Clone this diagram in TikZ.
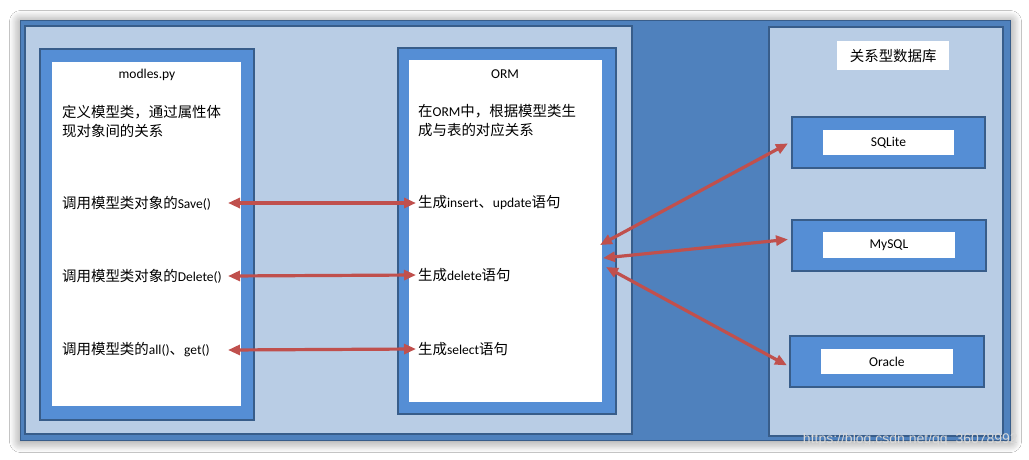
\documentclass[tikz,border=0pt]{standalone}
\usepackage{fontspec}
\setmainfont{Carlito}
\newfontfamily\cjk[Scale=1.07]{Noto Sans CJK SC}
\newfontfamily\urlfont{Liberation Sans}
\usetikzlibrary{arrows.meta}
\usetikzlibrary{shadows.blur}
\definecolor{outerblue}{RGB}{79,129,189}
\definecolor{panelfill}{RGB}{185,205,229}
\definecolor{boxblue}{RGB}{85,142,213}
\definecolor{paneledge}{RGB}{56,93,138}
\definecolor{linkred}{RGB}{192,80,77}
\tikzset{
  panel/.style={draw=paneledge, line width=2pt, fill=panelfill, anchor=north west, inner sep=0pt},
  bluebox/.style={draw=paneledge, line width=1.8pt, fill=boxblue, anchor=north west, inner sep=0pt},
  whitebox/.style={fill=white, anchor=north west, inner sep=0pt},
  txt/.style={anchor=west, inner sep=0pt, font=\fontsize{13.5}{19}\selectfont, align=left},
  ctxt/.style={inner sep=0pt, font=\fontsize{13.5}{17}\selectfont},
  link/.style={draw=linkred, line width=3.2pt, {Triangle[length=12pt,width=10pt]}-{Triangle[length=12pt,width=10pt]}},
}
\begin{document}
\begin{tikzpicture}[x=1pt, y=-1pt]
  \useasboundingbox[fill=white] (0,0) rectangle (1029,459);
  % frame and panels
  \node[draw=paneledge, line width=1pt, fill=outerblue, anchor=north west, inner sep=0pt,
        minimum width=990pt, minimum height=420pt,
        blur shadow={shadow xshift=0pt, shadow yshift=-1pt, shadow blur radius=11pt, shadow blur steps=12, shadow opacity=50}] (frame) at (20,20) {};
  \node[panel, minimum width=607pt, minimum height=408pt] (appside) at (24,25) {};
  \node[panel, minimum width=234pt, minimum height=409pt] (dbside) at (768,26) {};
  % modles.py
  \node[bluebox, minimum width=214pt, minimum height=371pt] (modles) at (39,48) {};
  \node[whitebox, minimum width=189pt, minimum height=344pt] (modlesIn) at (52,62) {};
  \node[ctxt] (modlesTitle) at (147,75) {modles.py};
  \node[txt] (modlesDesc) at (62,121) {{\cjk 定义模型类，通过属性体}\\{\cjk 现对象间的关系}};
  \node[txt] (save) at (62,203) {{\cjk 调用模型类对象的}Save()};
  \node[txt] (delete) at (62,276) {{\cjk 调用模型类对象的}Delete()};
  \node[txt] (allget) at (62,350) {{\cjk 调用模型类的}all(){\cjk 、}get()};
  % ORM
  \node[bluebox, minimum width=218pt, minimum height=366pt] (orm) at (397,47) {};
  \node[whitebox, minimum width=193pt, minimum height=342pt] (ormIn) at (409,60) {};
  \node[ctxt] (ormTitle) at (505,74) {ORM};
  \node[txt] (ormDesc) at (418,121) {{\cjk 在}ORM{\cjk 中，根据模型类生}\\{\cjk 成与表的对应关系}};
  \node[txt] (insert) at (418,203) {{\cjk 生成}insert{\cjk 、}update{\cjk 语句}};
  \node[txt] (deletesql) at (418,275) {{\cjk 生成}delete{\cjk 语句}};
  \node[txt] (selectsql) at (418,349) {{\cjk 生成}select{\cjk 语句}};
  % databases
  \node[whitebox, minimum width=112pt, minimum height=29pt] (dbTitleBox) at (837,41) {};
  \node[ctxt] (dbTitle) at (dbTitleBox.center) {\cjk 关系型数据库};
  \node[bluebox, minimum width=193pt, minimum height=51pt] (sqlite) at (791,116) {};
  \node[whitebox, minimum width=131pt, minimum height=25pt, anchor=center,
        font=\fontsize{13.5}{15}\selectfont] (sqliteIn) at (sqlite.center) {SQLite};
  \node[bluebox, minimum width=194pt, minimum height=51pt] (mysql) at (791,219) {};
  \node[whitebox, minimum width=132pt, minimum height=26pt, anchor=center,
        font=\fontsize{13.5}{15}\selectfont] (mysqlIn) at (mysql.center) {MySQL};
  \node[bluebox, minimum width=194pt, minimum height=51pt] (oracle) at (789,335) {};
  \node[whitebox, minimum width=132pt, minimum height=25pt, anchor=center,
        font=\fontsize{13.5}{15}\selectfont] (oracleIn) at (oracle.center) {Oracle};
  % connectors
  \coordinate (lx) at (228,0);
  \coordinate (rx) at (416,0);
  \draw[link] (save -| lx) -- (save -| rx);
  \draw[link] (delete -| lx) -- (deletesql -| rx);
  \draw[link] (allget -| lx) -- (selectsql -| rx);
  \coordinate (o1) at (600,245);
  \coordinate (o2) at (603,258);
  \coordinate (o3) at (606,267);
  \draw[link] (o1) -- ([xshift=-3pt, yshift=-1pt]sqlite.west);
  \draw[link] (o2) -- ([xshift=-3pt, yshift=6pt]mysql.west);
  \draw[link] (o3) -- ([xshift=-2pt, yshift=-4pt]oracle.west);
  % watermark
  \node[inner sep=0pt, anchor=east, text=gray!30, font=\urlfont\fontsize{14}{16}\selectfont] (mark) at (1018,440) {https://blog.csdn.net/qq\_36078992};
\end{tikzpicture}
\end{document}
